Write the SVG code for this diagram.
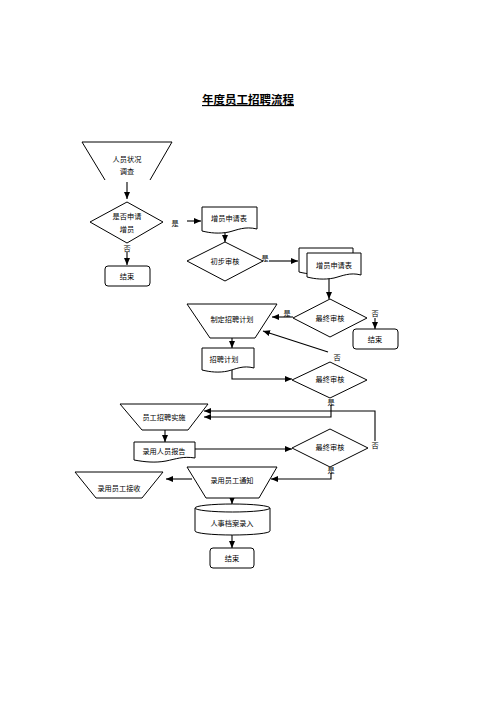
<svg xmlns="http://www.w3.org/2000/svg" width="496" height="702" viewBox="0 0 496 702">
<style>
.s{fill:#fff;stroke:#000;stroke-width:1}
.o{fill:none;stroke:#000;stroke-width:1}
.t{font-family:"Noto Sans CJK SC","Noto Sans",sans-serif;font-size:7.2px;fill:#000;text-anchor:middle;dominant-baseline:central}
.c{fill:none;stroke:#000;stroke-width:1.1}
.title{font-family:"Noto Sans CJK SC","Noto Sans",sans-serif;font-size:11.5px;font-weight:bold;fill:#000;text-anchor:middle;text-decoration:underline}
</style>
<defs>
<marker id="a" markerWidth="7" markerHeight="6" refX="7" refY="3" orient="auto" markerUnits="userSpaceOnUse">
<path d="M0,0 L7,3 L0,6 Z" fill="#000"/>
</marker>
</defs>
<rect width="496" height="702" fill="#fff"/>
<text class="title" x="248" y="104">年度员工招聘流程</text>

<g id="connectors">
<path class="c" d="M127,182 V199" marker-end="url(#a)"/>
<path class="c" d="M187,221 H201" marker-end="url(#a)"/>
<path class="c" d="M127,252 V265" marker-end="url(#a)"/>
<path class="c" d="M225,231 V242" marker-end="url(#a)"/>
<path class="c" d="M269,261 H298" marker-end="url(#a)"/>
<path class="c" d="M329,277 V299" marker-end="url(#a)"/>
<path class="c" d="M293,317 H272" marker-end="url(#a)"/>
<path class="c" d="M375,318 V329" marker-end="url(#a)"/>
<path class="c" d="M328,352 L263,331" marker-end="url(#a)"/>
<path class="c" d="M232,338 V348" marker-end="url(#a)"/>
<path class="c" d="M232,370 V379 H292" marker-end="url(#a)"/>
<path class="c" d="M331,405 V417 H204" marker-end="url(#a)"/>
<path class="c" d="M375,441 V411 H204" marker-end="url(#a)"/>
<path class="c" d="M165,430 V442" marker-end="url(#a)"/>
<path class="c" d="M195,449 H292" marker-end="url(#a)"/>
<path class="c" d="M331,473 V479 H271" marker-end="url(#a)"/>
<path class="c" d="M192,479 H166" marker-end="url(#a)"/>
<path class="c" d="M232,498 V504" marker-end="url(#a)"/>
<path class="c" d="M232,535 V548" marker-end="url(#a)"/>
<text class="t" x="175" y="223">是</text>
<text class="t" x="127" y="248">否</text>
<text class="t" x="265" y="258">是</text>
<text class="t" x="287" y="313">是</text>
<text class="t" x="375" y="313">否</text>
<text class="t" x="337" y="357">否</text>
<text class="t" x="331" y="402">是</text>
<text class="t" x="375" y="445">否</text>
<text class="t" x="331" y="470">是</text>
</g>

<g id="n1">
<polyline class="o" points="105,180 82,142 172,142 150,180"/>
<text class="t" x="127" y="159">人员状况</text>
<text class="t" x="127" y="171">调查</text>
</g>
<g id="n2">
<polygon class="s" points="127,202 163,222 127,243 90,222"/>
<text class="t" x="127" y="216">是否申请</text>
<text class="t" x="127" y="229">增员</text>
</g>
<g id="n3">
<rect class="s" x="105" y="266" width="45" height="20" rx="3"/>
<text class="t" x="127" y="276">结束</text>
</g>
<g id="n4">
<path class="s" d="M202,207 H257 V229 C245,226 237,230 229,232 C219,234 210,233 202,231 Z"/>
<text class="t" x="229" y="218">增员申请表</text>
</g>
<g id="n5">
<polygon class="s" points="225,242 263,261 225,281 187,261"/>
<text class="t" x="225" y="261">初步审核</text>
</g>
<g id="n6">
<path class="s" d="M299,248 H353 V270 C342,267 334,271 326,273 C316,275 307,274 299,272 Z"/>
<path class="s" d="M307,253 H361 V275 C350,272 342,276 334,278 C324,280 315,279 307,277 Z"/>
<text class="t" x="334" y="265">增员申请表</text>
</g>
<g id="n7">
<polygon class="s" points="330,299 367,318 330,337 293,318"/>
<text class="t" x="330" y="318">最终审核</text>
</g>
<g id="n8">
<rect class="s" x="353" y="329" width="45" height="20" rx="3"/>
<text class="t" x="375" y="339">结束</text>
</g>
<g id="n9">
<polygon class="s" points="187,304 277,304 255,338 210,338"/>
<text class="t" x="232" y="319">制定招聘计划</text>
</g>
<g id="n10">
<path class="s" d="M202,348 H254 V368 C243,365 236,369 228,371 C219,373 210,372 202,370 Z"/>
<text class="t" x="224" y="359">招聘计划</text>
</g>
<g id="n11">
<polygon class="s" points="330,362 367,380 330,398 292,380"/>
<text class="t" x="330" y="379">最终审核</text>
</g>
<g id="n12">
<polygon class="s" points="120,404 208,404 188,430 142,430"/>
<text class="t" x="164" y="417">员工招聘实施</text>
</g>
<g id="n13">
<path class="s" d="M134,442 H195 V458 C183,456 176,459 166,461 C155,463 145,462 134,460 Z"/>
<text class="t" x="164" y="451">录用人员报告</text>
</g>
<g id="n14">
<polygon class="s" points="330,429 368,448 330,467 292,448"/>
<text class="t" x="330" y="447">最终审核</text>
</g>
<g id="n15">
<polygon class="s" points="187,467 277,467 259,498 206,498"/>
<text class="t" x="232" y="480">录用员工通知</text>
</g>
<g id="n16">
<polygon class="s" points="75,472 163,472 142,498 96,498"/>
<text class="t" x="119" y="488">录用员工接收</text>
</g>
<g id="n17">
<path class="s" d="M195,508 V531 A37.5,4 0 0 0 270,531 V508"/>
<ellipse class="s" cx="232.5" cy="508" rx="37.5" ry="4"/>
<text class="t" x="232" y="523">人事档案录入</text>
</g>
<g id="n18">
<rect class="s" x="210" y="548" width="44" height="20" rx="3"/>
<text class="t" x="232" y="558">结束</text>
</g>
</svg>
